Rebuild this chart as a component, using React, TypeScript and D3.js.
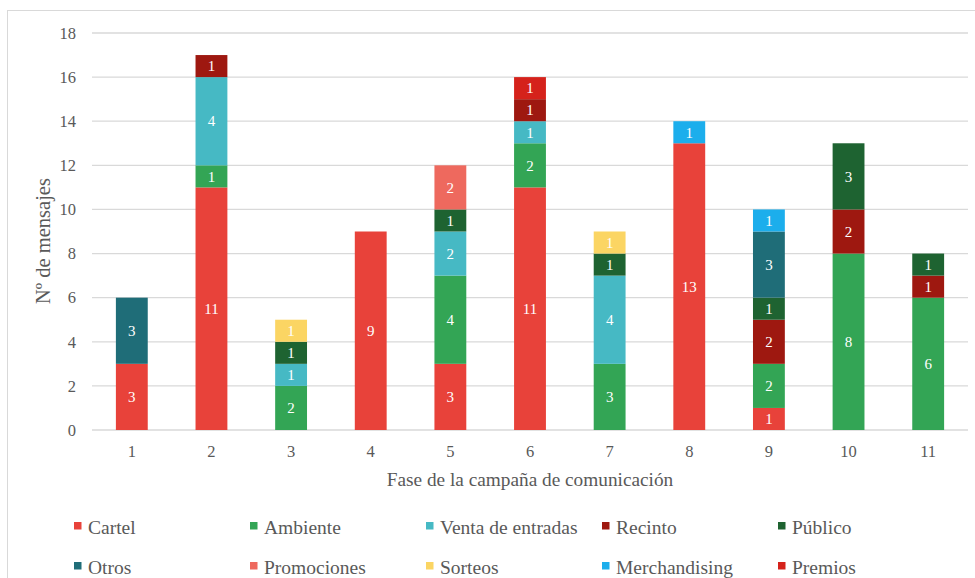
import React from "react";
import * as d3 from "d3";

const phases = ["1", "2", "3", "4", "5", "6", "7", "8", "9", "10", "11"];
const seriesNames = [
  "Cartel",
  "Ambiente",
  "Venta de entradas",
  "Recinto",
  "Público",
  "Otros",
  "Promociones",
  "Sorteos",
  "Merchandising",
  "Premios",
];
const seriesColors = [
  "#E8423A",
  "#33A555",
  "#46B9C4",
  "#9E1810",
  "#1E6331",
  "#1F6D78",
  "#EE695E",
  "#FBD563",
  "#1CAEEC",
  "#D5221B",
];
// values per phase, one array per category
const cartel = [3, 11, 0, 9, 3, 11, 0, 13, 1, 0, 0];
const ambiente = [0, 1, 2, 0, 4, 2, 3, 0, 2, 8, 6];
const venta = [0, 4, 1, 0, 2, 1, 4, 0, 0, 0, 0];
const recinto = [0, 1, 0, 0, 0, 1, 0, 0, 2, 2, 1];
const publico = [0, 0, 1, 0, 1, 0, 1, 0, 1, 3, 1];
const otros = [3, 0, 0, 0, 0, 0, 0, 0, 3, 0, 0];
const promociones = [0, 0, 0, 0, 2, 0, 0, 0, 0, 0, 0];
const sorteos = [0, 0, 1, 0, 0, 0, 1, 0, 0, 0, 0];
const merchandising = [0, 0, 0, 0, 0, 0, 0, 1, 1, 0, 0];
const premios = [0, 0, 0, 0, 0, 1, 0, 0, 0, 0, 0];
const yTicks = [0, 2, 4, 6, 8, 10, 12, 14, 16, 18];

const seriesValues = [
  cartel,
  ambiente,
  venta,
  recinto,
  publico,
  otros,
  promociones,
  sorteos,
  merchandising,
  premios,
];

const W = 975;
const H = 578;
const font = "Liberation Serif, Times New Roman, DejaVu Serif, serif";
const textGray = "#595959";

export default function App() {
  const x = d3.scaleBand<string>().domain(phases).range([92, 968]).paddingInner(0.6).paddingOuter(0.3);
  const y = d3.scaleLinear().domain([0, 18]).range([430, 33]);

  const rows = phases.map((p, i) => {
    const r: Record<string, number | string> = { phase: p };
    seriesNames.forEach((s, k) => (r[s] = seriesValues[k][i]));
    return r;
  });
  const stacked = d3.stack<Record<string, number | string>>().keys(seriesNames)(rows as any);

  // legend grid: 5 columns x 2 rows
  const legendCols = [74, 250, 426, 602, 778];
  const legendRows = [526, 566];

  return (
    <svg
      width={W}
      height={H}
      style={{ position: "absolute", left: 0, top: 0, background: "#fff", fontFamily: font }}
    >
      <rect x={7.5} y={10.5} width={W} height={H} fill="#fff" stroke="#d9d9d9" strokeWidth={1} />
      {yTicks.map((t) => (
        <g key={t}>
          <line x1={92} x2={968} y1={y(t)} y2={y(t)} stroke="#d9d9d9" strokeWidth={1.3} />
          <text
            x={76}
            y={y(t)}
            dy="0.35em"
            textAnchor="end"
            style={{ fontFamily: font }}
            fontSize={16.5}
            fill={textGray}
          >
            {t}
          </text>
        </g>
      ))}
      {stacked.map((layer, k) => (
        <g key={seriesNames[k]} fill={seriesColors[k]}>
          {layer.map((d, i) => {
            const v = d[1] - d[0];
            if (v <= 0) return null;
            const x0 = x(phases[i])!;
            const yTop = y(d[1]);
            const yBot = y(d[0]);
            return (
              <g key={i}>
                <rect x={x0} y={yTop} width={x.bandwidth()} height={yBot - yTop} />
                <text
                  x={x0 + x.bandwidth() / 2}
                  y={(yTop + yBot) / 2}
                  dy="0.35em"
                  textAnchor="middle"
                  style={{ fontFamily: font }}
                  fontSize={15}
                  fill="#fff"
                >
                  {v}
                </text>
              </g>
            );
          })}
        </g>
      ))}
      {phases.map((p) => (
        <text
          key={p}
          x={x(p)! + x.bandwidth() / 2}
          y={451}
          dy="0.35em"
          textAnchor="middle"
          style={{ fontFamily: font }}
          fontSize={16.5}
          fill={textGray}
        >
          {p}
        </text>
      ))}
      <text
        x={530}
        y={479}
        dy="0.35em"
        textAnchor="middle"
        style={{ fontFamily: font }}
        fontSize={19.3}
        fill={textGray}
      >
        Fase de la campaña de comunicación
      </text>
      <text
        transform={`translate(43,241) rotate(-90)`}
        dy="0.35em"
        textAnchor="middle"
        style={{ fontFamily: font }}
        fontSize={20.5}
        fill={textGray}
      >
        Nº de mensajes
      </text>
      {seriesNames.map((s, k) => {
        const cx = legendCols[k % 5];
        const cy = legendRows[Math.floor(k / 5)];
        return (
          <g key={s}>
            <rect x={cx} y={cy - 4} width={7.5} height={7.5} fill={seriesColors[k]} />
            <text
              x={cx + 14}
              y={cy + 1}
              dy="0.35em"
              style={{ fontFamily: font }}
              fontSize={19.5}
              fill={textGray}
            >
              {s}
            </text>
          </g>
        );
      })}
    </svg>
  );
}
